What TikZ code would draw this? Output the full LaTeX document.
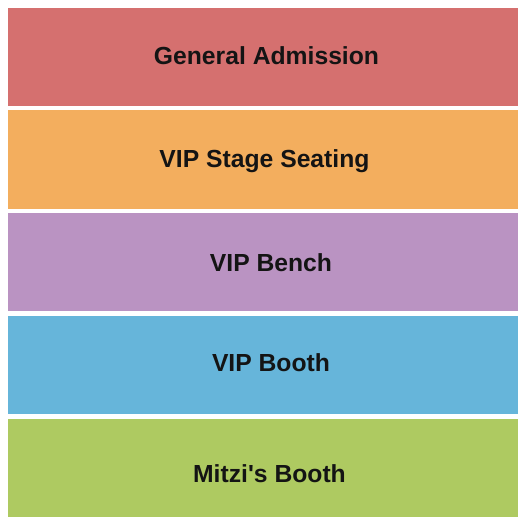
\documentclass[tikz,border=0pt]{standalone}
\usepackage{fontspec}
\setmainfont{Liberation Sans}
\definecolor{cga}{HTML}{D5706F}
\definecolor{cvs}{HTML}{F3AE5E}
\definecolor{cvb}{HTML}{BA93C2}
\definecolor{cvo}{HTML}{66B5DA}
\definecolor{cmb}{HTML}{AECA61}
\tikzset{sect/.style={inner sep=0pt, outer sep=0pt},
  lbl/.style={font=\fontsize{24.7}{28}\selectfont\bfseries, text=black!92, inner sep=0pt}}
\begin{document}
\begin{tikzpicture}[x=1pt,y=-1pt]
\useasboundingbox (0,0) rectangle (525,525);
\fill[white] (0,0) rectangle (525,525);
\fill[cga] (8,8) rectangle (518,106);
\fill[cvs] (8,110) rectangle (518,209);
\fill[cvb] (8,213) rectangle (518,311);
\fill[cvo] (8,316) rectangle (518,414);
\fill[cmb] (8,419) rectangle (518,517);
\node[lbl] (ga) at (266.5,56) {General Admission};
\node[lbl] (vs) at (264.5,161.5) {VIP Stage Seating};
\node[lbl] (vb) at (271,263) {VIP Bench};
\node[lbl] (vo) at (271,363) {VIP Booth};
\node[lbl] (mb) at (269.5,474) {Mitzi\textquotesingle s Booth};
\end{tikzpicture}
\end{document}
